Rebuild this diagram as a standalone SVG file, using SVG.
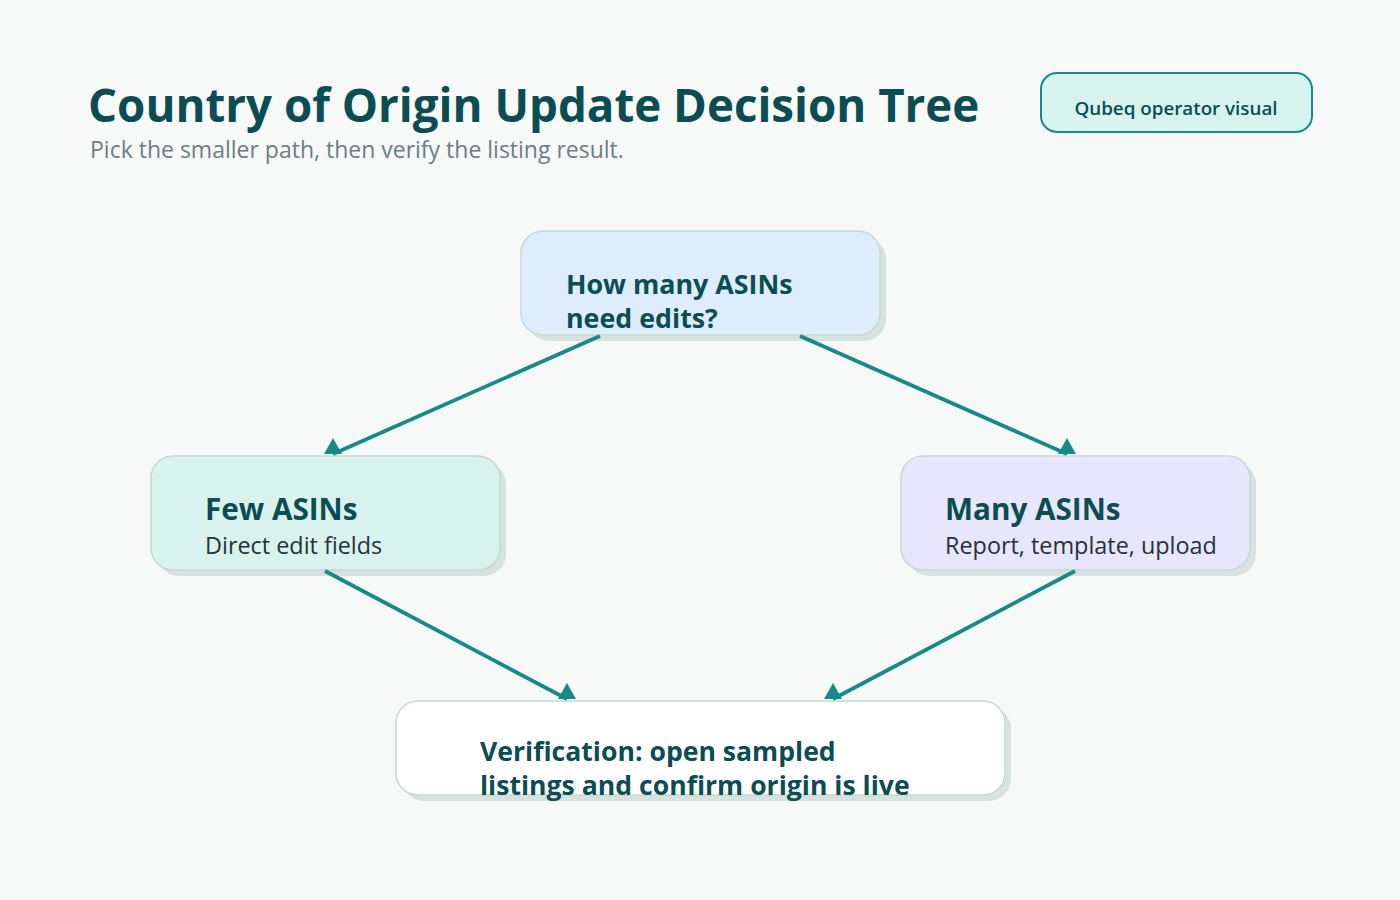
<svg xmlns="http://www.w3.org/2000/svg" width="1400" height="900" viewBox="0 0 1400 900">
<defs>
<marker id="ah" viewBox="0 0 20 18" refX="10" refY="16" markerWidth="20" markerHeight="18" markerUnits="userSpaceOnUse" orient="0">
<path d="M10 0 L19 16 L1 16 Z" fill="#178a88"/>
</marker>
<style>
.t{font-family:"Open Sans","Noto Sans","Liberation Sans",sans-serif}
.h{font-weight:700;fill:#0b4d52}
.s{fill:#263238}
.box{stroke:#c5d9d3;stroke-width:1.5}
.sh{fill:#d5e2de}
.ed{stroke:#178a88;stroke-width:3.8;fill:none;marker-end:url(#ah)}
</style>
</defs>
<rect width="1400" height="900" fill="#f6f9f7"/>
<text class="t h" x="88" y="122" font-size="45.7">Country of Origin Update Decision Tree</text>
<text class="t" x="90" y="158" font-size="23" fill="#6b7f84">Pick the smaller path, then verify the listing result.</text>
<g id="badge">
<rect x="1041" y="73" width="271" height="59" rx="16" fill="#d7f3ee" stroke="#1a8a87" stroke-width="2"/>
<text class="t" x="1176" y="115" font-size="18.8" font-weight="600" fill="#0b4d52" text-anchor="middle">Qubeq operator visual</text>
</g>
<g id="n-question">
<rect class="sh" x="527" y="237" width="359" height="104" rx="22"/>
<rect class="box" x="521" y="231" width="359" height="104" rx="22" fill="#ddedfd"/>
<text class="t h" x="566" y="294" font-size="26.8">How many ASINs</text>
<text class="t h" x="566" y="328" font-size="26.8">need edits?</text>
</g>
<g id="n-few">
<rect class="sh" x="157" y="462" width="349" height="114" rx="22"/>
<rect class="box" x="151" y="456" width="349" height="114" rx="22" fill="#d8f2ed"/>
<text class="t h" x="205" y="520" font-size="29.7">Few ASINs</text>
<text class="t s" x="205" y="554" font-size="23.4">Direct edit fields</text>
</g>
<g id="n-many">
<rect class="sh" x="907" y="462" width="349" height="114" rx="22"/>
<rect class="box" x="901" y="456" width="349" height="114" rx="22" fill="#e8e6fd"/>
<text class="t h" x="945" y="520" font-size="29.7">Many ASINs</text>
<text class="t s" x="945" y="554" font-size="23.4">Report, template, upload</text>
</g>
<g id="n-verify">
<rect class="sh" x="402" y="707" width="609" height="94" rx="22"/>
<rect class="box" x="396" y="701" width="609" height="94" rx="22" fill="#ffffff"/>
<text class="t h" x="480" y="761" font-size="26.6">Verification: open sampled</text>
<text class="t h" x="480" y="795" font-size="26.6">listings and confirm origin is live</text>
</g>
<g id="connectors">
<path class="ed" d="M600 336 L333 454"/>
<path class="ed" d="M800 336 L1067 454"/>
<path class="ed" d="M325 571 L567 699"/>
<path class="ed" d="M1075 571 L833 699"/>
</g>
</svg>
